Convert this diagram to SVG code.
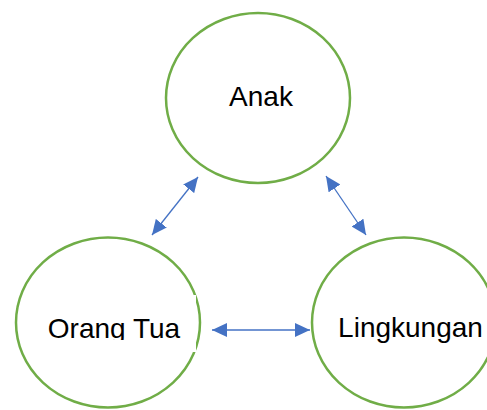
<svg xmlns="http://www.w3.org/2000/svg" width="487" height="410" viewBox="0 0 487 410">
  <style>
    .ring { fill: #FFFFFF; stroke: #70AD47; stroke-width: 2.5; }
    .label { font-family: "Liberation Sans", Arial, sans-serif; font-size: 28px; fill: #000000; text-anchor: middle; }
    .link { stroke: #4472C4; stroke-width: 1.3; fill: none; marker-start: url(#head); marker-end: url(#head); }
  </style>
  <defs>
    <marker id="head" markerUnits="userSpaceOnUse" viewBox="0 0 15 14" markerWidth="15" markerHeight="14" refX="15" refY="7" orient="auto-start-reverse">
      <path d="M0,0 L15,7 L0,14 Z" fill="#4472C4"/>
    </marker>
    <clipPath id="orangClip">
      <rect x="30" y="295" width="167" height="45"/>
    </clipPath>
  </defs>
  <rect width="487" height="410" fill="#FFFFFF"/>

  <g id="anak">
    <ellipse class="ring" cx="258" cy="98" rx="92" ry="85"/>
    <text class="label" x="261" y="106">Anak</text>
  </g>

  <g id="orang-tua">
    <ellipse class="ring" cx="108" cy="322.5" rx="92" ry="85"/>
    <rect x="30" y="295" width="166" height="57" fill="#FFFFFF"/>
    <text class="label" x="114" y="338" clip-path="url(#orangClip)">Orang Tua</text>
  </g>

  <g id="lingkungan">
    <ellipse class="ring" cx="404" cy="322.5" rx="92" ry="85"/>
    <text class="label" x="410.5" y="337">Lingkungan</text>
  </g>

  <g id="connectors">
    <line class="link" x1="152" y1="235" x2="198" y2="177"/>
    <line class="link" x1="326" y1="176" x2="366" y2="235"/>
    <line class="link" x1="212" y1="330" x2="310" y2="330"/>
  </g>
</svg>
